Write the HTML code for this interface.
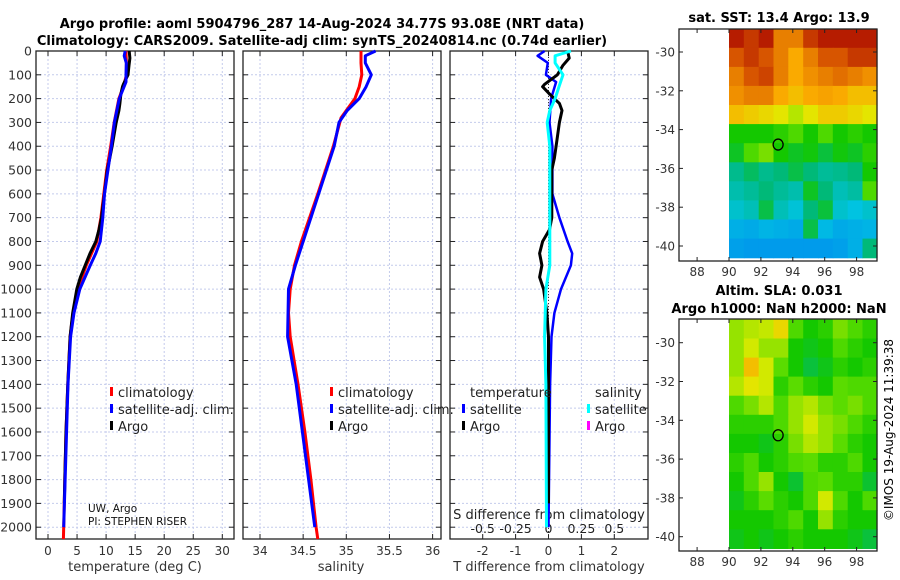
<!DOCTYPE html>
<html><head><meta charset="utf-8">
<style>
html,body{margin:0;padding:0;background:#fff;}
svg{display:block;font-family:"DejaVu Sans","Liberation Sans",sans-serif;}
</style></head>
<body>
<svg id="fig" width="900" height="580" viewBox="0 0 900 580" xmlns="http://www.w3.org/2000/svg">
<text x="322" y="28" font-size="13" font-weight="bold" text-anchor="middle">Argo profile: aoml 5904796_287 14-Aug-2024 34.77S 93.08E (NRT data)</text>
<text x="322" y="45" font-size="13" font-weight="bold" text-anchor="middle">Climatology: CARS2009. Satellite-adj clim: synTS_20240814.nc (0.74d earlier)</text>
<text x="779" y="22" font-size="13" font-weight="bold" text-anchor="middle">sat. SST: 13.4 Argo: 13.9</text>
<text x="779" y="295" font-size="13" font-weight="bold" text-anchor="middle">Altim. SLA: 0.031</text>
<text x="779" y="313" font-size="13" font-weight="bold" text-anchor="middle">Argo h1000: NaN h2000: NaN</text>
<text transform="translate(893,430) rotate(-90)" font-size="12" text-anchor="middle">©IMOS 19-Aug-2024 11:39:38</text>
<g id="g"></g>
</svg>
<script>
// ---- data ----
const climDepth=[0,50,100,150,200,300,400,500,600,700,800,900,1000,1100,1200,1400,1600,1800,2000,2050];
const tempClim=[13.4,13.5,13.5,13.0,12.2,11.4,10.8,10.1,9.6,9.1,8.4,6.6,5.1,4.3,3.8,3.4,3.1,2.9,2.7,2.65];
const satDiffDepth=[0,20,50,100,130,200,300,400,600,700,800,850,900,1000,1100,1200,1400,2000];
const satTempDiff=[-0.12,-0.33,-0.02,-0.08,0.23,0.08,0.03,0.12,0.12,0.33,0.58,0.72,0.68,0.38,0.18,0.09,0.05,0.0];
const argoDepth=[0,30,60,100,140,150,180,220,250,300,400,450,500,600,700,750,800,850,900,950,1000,1100,1200,1400,1600,1800,1900];
const argoTempDiff=[0.58,0.63,0.44,0.27,-0.12,-0.18,0.03,0.33,0.41,0.33,0.23,0.18,0.1,0.1,0.1,0.03,-0.18,-0.27,-0.2,-0.27,-0.15,-0.05,0,0,0,0,0];
const salDepth=[0,50,100,150,200,280,400,600,800,900,1000,1100,1200,1400,1600,1800,2000,2050];
const salClim=[35.17,35.17,35.18,35.15,35.1,34.94,34.85,34.67,34.48,34.4,34.35,34.33,34.35,34.44,34.52,34.59,34.65,34.67];
const satSalDiffDepth=[0,20,50,100,150,200,250,300,400,900,1000,1200,1400,2000];
const satSalDiff=[0.17,0.05,0.05,0.11,0.08,0.05,0.01,-0.01,0.01,0.01,-0.02,-0.03,-0.02,-0.015];
const depthTicks=[0,100,200,300,400,500,600,700,800,900,1000,1100,1200,1300,1400,1500,1600,1700,1800,1900,2000];
const tempTicks=[0,5,10,15,20,25,30];
const salTicks=[34,34.5,35,35.5,36];
const tdiffTicks=[-2,-1,0,1,2];
const sdiffTicks=[-0.5,-0.25,0,0.25,0.5];
const sdiffLabels=["-0.5","-0.25","0","0.25","0.5"];
const lonTicks=[88,90,92,94,96,98];
const latTicks=[-30,-32,-34,-36,-38,-40];
const sstGrid=[
[.95,.9,.95,.8,.8,.9,.95,.95,.95,.95],
[.85,.9,.85,.8,.75,.8,.85,.85,.9,.9],
[.8,.85,.88,.8,.75,.78,.8,.82,.8,.78],
[.78,.8,.8,.75,.72,.75,.76,.75,.72,.72],
[.72,.7,.68,.66,.62,.66,.7,.7,.68,.66],
[.5,.5,.5,.52,.55,.5,.55,.5,.52,.5],
[.47,.55,.58,.5,.47,.49,.45,.49,.47,.52],
[.38,.42,.38,.4,.44,.4,.37,.38,.4,.5],
[.35,.37,.4,.37,.35,.47,.4,.34,.36,.55],
[.32,.34,.44,.34,.31,.4,.45,.32,.3,.32],
[.26,.25,.27,.26,.25,.44,.28,.25,.26,.27],
[.23,.22,.22,.22,.22,.22,.22,.23,.26,.4]];
const slaGrid=[
[.6,.62,.63,.68,.55,.5,.52,.58,.55,.52],
[.6,.64,.6,.6,.5,.48,.5,.55,.52,.5],
[.6,.72,.64,.56,.5,.45,.48,.52,.5,.52],
[.62,.66,.64,.52,.56,.52,.5,.56,.55,.55],
[.55,.58,.62,.55,.6,.62,.58,.56,.58,.55],
[.52,.52,.52,.55,.6,.64,.6,.58,.55,.52],
[.5,.5,.48,.52,.58,.62,.6,.56,.52,.5],
[.52,.55,.5,.52,.55,.56,.52,.52,.55,.5],
[.5,.55,.6,.5,.46,.55,.56,.52,.52,.46],
[.48,.52,.56,.52,.5,.55,.64,.55,.5,.55],
[.5,.5,.5,.52,.55,.5,.6,.52,.5,.5],
[.48,.5,.48,.5,.52,.5,.5,.5,.48,.45]];
const argoLon=93.08, argoLat=-34.77;

// ---- helpers ----
const NS="http://www.w3.org/2000/svg";
const G=document.getElementById('g');
function mk(t,a,p){const e=document.createElementNS(NS,t);for(const k in a)e.setAttribute(k,a[k]);(p||G).appendChild(e);return e;}
function interp(xs,ys,x){if(x<=xs[0])return ys[0];for(let i=1;i<xs.length;i++){if(x<=xs[i]){const f=(x-xs[i-1])/(xs[i]-xs[i-1]);return ys[i-1]+f*(ys[i]-ys[i-1]);}}return ys[ys.length-1];}
const TOP=51,BOT=539;
const yD=d=>TOP+d*0.2381;
const xT=v=>48+v*5.81;
const xS=v=>260+(v-34)*86.3;
const xTd=v=>548.5+v*32.9;
const xSd=v=>548.5+v*131.6;
const panels=[[36,234],[243,441],[450,648]];

panels.forEach((p,pi)=>{
  const xf=[xT,xS,xTd][pi], ticks=[tempTicks,salTicks,tdiffTicks][pi];
  depthTicks.forEach(d=>{const l=mk('line',{x1:p[0],x2:p[1],y1:yD(d),y2:yD(d),stroke:'#c4cbec','stroke-width':1,'stroke-dasharray':'2,2'});
    
    
    mk('line',{x1:p[0],x2:p[0]+5,y1:yD(d),y2:yD(d),stroke:'#222'});mk('line',{x1:p[1]-5,x2:p[1],y1:yD(d),y2:yD(d),stroke:'#222'});});
  ticks.forEach(v=>{const l=mk('line',{x1:xf(v),x2:xf(v),y1:TOP,y2:BOT,stroke:'#c4cbec','stroke-width':1,'stroke-dasharray':'2,2'});
    
    
    mk('line',{x1:xf(v),x2:xf(v),y1:BOT-5,y2:BOT,stroke:'#222'});mk('line',{x1:xf(v),x2:xf(v),y1:TOP,y2:TOP+5,stroke:'#222'});
    const t=mk('text',{x:xf(v),y:555,'font-size':12,'text-anchor':'middle',fill:'#333'});t.textContent=v;
    
    
  });
  const f=mk('rect',{x:p[0],y:TOP,width:p[1]-p[0],height:BOT-TOP,fill:'none',stroke:'#222','stroke-width':1.3});
  
  
});
depthTicks.forEach(d=>{const t=mk('text',{x:32,y:yD(d)+4.5,'font-size':12.5,'text-anchor':'end',fill:'#333'});t.textContent=d;
  
  });
sdiffTicks.forEach((v,i)=>{const t=mk('text',{x:xSd(v),y:533,'font-size':12.5,'text-anchor':'middle',fill:'#222'});t.textContent=sdiffLabels[i];
  
  });
[[135,'temperature (deg C)','temperature-axis-title'],[341,'salinity','salinity-axis-title'],[549,'T difference from climatology','tdiff-axis-title']].forEach(a=>{
  const t=mk('text',{x:a[0],y:571,'font-size':13,'text-anchor':'middle',fill:'#333'});t.textContent=a[1];
  
  });
{const t=mk('text',{x:549,y:519,'font-size':13,'text-anchor':'middle',fill:'#222'});t.textContent='S difference from climatology';

}
mk('line',{x1:xTd(0),x2:xTd(0),y1:TOP,y2:BOT,stroke:'#333','stroke-dasharray':'1,2'});

function poly(pts,color,w,name){const p=mk('polyline',{points:pts.map(q=>q[0].toFixed(1)+','+q[1].toFixed(1)).join(' '),fill:'none',stroke:color,'stroke-width':w,'stroke-linejoin':'round'});
  
  }
poly(climDepth.map((d,i)=>[xT(tempClim[i]),yD(d)]),'#f00',3,'temp-climatology-line');
poly(argoDepth.map((d,i)=>[xT(interp(climDepth,tempClim,d)+argoTempDiff[i]),yD(d)]),'#000',3,'temp-argo-line');
poly(satDiffDepth.map((d,i)=>[xT(interp(climDepth,tempClim,d)+satTempDiff[i]),yD(d)]),'#00f',3,'temp-satellite-line');
poly(salDepth.map((d,i)=>[xS(salClim[i]),yD(d)]),'#f00',3,'sal-climatology-line');
poly(satSalDiffDepth.map((d,i)=>[xS(interp(salDepth,salClim,d)+satSalDiff[i]),yD(d)]),'#00f',3,'sal-satellite-line');
poly(satDiffDepth.map((d,i)=>[xTd(satTempDiff[i]),yD(d)]),'#00f',2.5,'tdiff-satellite-line');
poly(argoDepth.map((d,i)=>[xTd(argoTempDiff[i]),yD(d)]),'#000',3,'tdiff-argo-line');
poly(satSalDiffDepth.map((d,i)=>[xSd(satSalDiff[i]),yD(d)]),'#0ff',3,'sdiff-satellite-line');

function leg(x,y,c,txt,name){mk('rect',{x:x,y:y-10,width:3,height:9,fill:c});
  const t=mk('text',{x:x+8,y:y,'font-size':13,fill:'#222'});t.textContent=txt;
  
  }
leg(110,397,'#f00','climatology','legend-climatology');
leg(110,414,'#00f','satellite-adj. clim.','legend-satellite-adj');
leg(110,431,'#000','Argo','legend-argo');
leg(330,397,'#f00','climatology','legend-climatology-2');
leg(330,414,'#00f','satellite-adj. clim.','legend-satellite-adj-2');
leg(330,431,'#000','Argo','legend-argo-2');
{const t=mk('text',{x:470,y:397,'font-size':13,fill:'#222'});t.textContent='temperature';

}
{const t=mk('text',{x:595,y:397,'font-size':13,fill:'#222'});t.textContent='salinity';

}
leg(462,414,'#00f','satellite','legend-t-satellite');
leg(462,431,'#000','Argo','legend-t-argo');
leg(587,414,'#0ff','satellite','legend-s-satellite');
leg(587,431,'#f0f','Argo','legend-s-argo');
{const t=mk('text',{x:88,y:512,'font-size':10.5,fill:'#111'});t.textContent='UW, Argo';

}
{const t=mk('text',{x:88,y:525,'font-size':10.5,fill:'#111'});t.textContent='PI: STEPHEN RISER';

}

const stops=[[0,[0,110,255]],[0.22,[0,155,235]],[0.3,[0,195,225]],[0.4,[0,185,120]],[0.5,[20,200,0]],[0.56,[90,220,0]],[0.65,[225,235,0]],[0.75,[250,170,0]],[0.85,[215,85,0]],[1,[165,0,0]]];
function cmap(v){for(let i=1;i<stops.length;i++){if(v<=stops[i][0]){const a=stops[i-1],b=stops[i],f=(v-a[0])/(b[0]-a[0]);
  return 'rgb('+a[1].map((c,k)=>Math.round(c+f*(b[1][k]-c))).join(',')+')';}}return 'rgb(165,0,0)';}
const LON0=90,LON1=99.3,LAT0=-28.8,LAT1=-40.6;
function drawMap(grid,bx0,bx1,by0,by1,latRef,name){
  const xL=lon=>729+(lon-90)*15.95;
  const yL=lat=>latRef+(-30-lat)*19.4;
  const rows=grid.length,cols=grid[0].length,dl=(LON1-LON0)/cols,dt=(LAT0-LAT1)/rows;
  grid.forEach((row,r)=>row.forEach((v,c)=>{
    const x0=xL(LON0+c*dl),x1=xL(LON0+(c+1)*dl),y0=yL(LAT0-r*dt),y1=yL(LAT0-(r+1)*dt);
    const cell=mk('rect',{x:x0.toFixed(1),y:Math.max(by0,y0).toFixed(1),width:(Math.min(bx1,x1)-x0+0.6).toFixed(1),height:(Math.min(by1,y1)-Math.max(by0,y0)+0.6).toFixed(1),fill:cmap(v)});
    
    
  }));
  lonTicks.forEach(l=>{mk('line',{x1:xL(l),x2:xL(l),y1:by1-4,y2:by1,stroke:'#222'});mk('line',{x1:xL(l),x2:xL(l),y1:by0,y2:by0+4,stroke:'#222'});
    const t=mk('text',{x:xL(l),y:by1+15,'font-size':12,'text-anchor':'middle',fill:'#333'});t.textContent=l;
    
    });
  latTicks.forEach(l=>{mk('line',{x1:bx0,x2:bx0+4,y1:yL(l),y2:yL(l),stroke:'#222'});mk('line',{x1:bx1-4,x2:bx1,y1:yL(l),y2:yL(l),stroke:'#222'});
    const t=mk('text',{x:bx0-4,y:yL(l)+4.5,'font-size':12,'text-anchor':'end',fill:'#333'});t.textContent=l;
    
    });
  const f=mk('rect',{x:bx0,y:by0,width:bx1-bx0,height:by1-by0,fill:'none',stroke:'#222','stroke-width':1.3});
  
  
  const m=mk('ellipse',{cx:xL(argoLon),cy:yL(argoLat),rx:5,ry:5.5,fill:'none',stroke:'#000','stroke-width':1.3});
  
  
}
drawMap(sstGrid,679,877,29,261,52,'sst-map');
drawMap(slaGrid,679,877,319,551,342.7,'sla-map');
</script>
</body></html>
